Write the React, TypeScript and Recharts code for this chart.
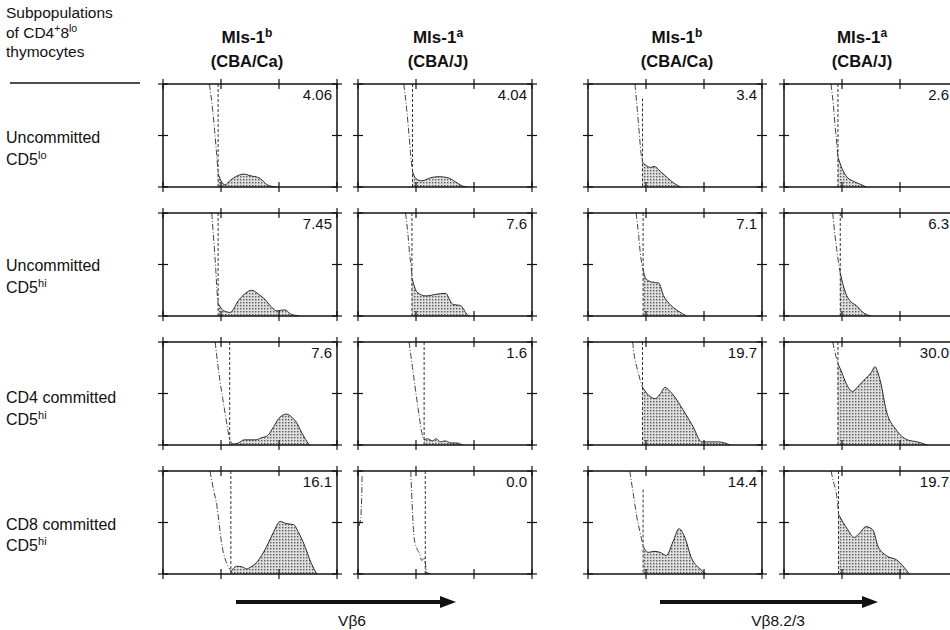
import React from 'react';
import { ComposedChart, Line, Area, XAxis, YAxis, ReferenceLine } from 'recharts';

type P = { x: number; y: number };

// ---------- text data ----------
const headerLines = ['Subpopulations', 'of CD4', 'thymocytes'];
const rowLabels = [
  { line1: 'Uncommitted', base: 'CD5', sup: 'lo' },
  { line1: 'Uncommitted', base: 'CD5', sup: 'hi' },
  { line1: 'CD4 committed', base: 'CD5', sup: 'hi' },
  { line1: 'CD8 committed', base: 'CD5', sup: 'hi' },
];
const colHeaders = [
  { name: 'Mls-1', sup: 'b', strain: '(CBA/Ca)' },
  { name: 'Mls-1', sup: 'a', strain: '(CBA/J)' },
  { name: 'Mls-1', sup: 'b', strain: '(CBA/Ca)' },
  { name: 'Mls-1', sup: 'a', strain: '(CBA/J)' },
];
const axisTitles = ['V\u03b26', 'V\u03b28.2/3'];
const pctLabels = [
  ['4.06', '4.04', '3.4', '2.6'],
  ['7.45', '7.6', '7.1', '6.3'],
  ['7.6', '1.6', '19.7', '30.0'],
  ['16.1', '0.0', '14.4', '19.7'],
];
const xTicks = [0, 1, 2, 3];
const yTicks = [0, 0.5, 1];

// gate position [x, top of gate line]
const gates = [
  [[0.95, 1], [0.94, 1], [0.94, 0.86], [0.93, 1]],
  [[0.95, 1], [0.93, 1], [0.95, 1], [0.97, 1]],
  [[1.15, 1], [1.14, 1], [0.94, 1], [0.93, 1]],
  [[1.17, 1], [1.16, 1], [0.95, 0.82], [0.94, 1]],
];

// ---------- histogram data (x: 0..3 log decades, y: fraction of panel height) ----------
const curveR1C1: P[] = [{ x: 0.8, y: 1 }, { x: 0.85, y: 0.78 }, { x: 0.89, y: 0.55 }, { x: 0.92, y: 0.35 }, { x: 0.95, y: 0.14 }];
const shadeR1C1: P[] = [{ x: 0.95, y: 0.13 }, { x: 1.0, y: 0.06 }, { x: 1.07, y: 0.02 }, { x: 1.15, y: 0.06 }, { x: 1.25, y: 0.1 }, { x: 1.4, y: 0.125 }, { x: 1.5, y: 0.11 }, { x: 1.67, y: 0.085 }, { x: 1.8, y: 0.02 }, { x: 1.95, y: 0 }];
const curveR1C2: P[] = [{ x: 0.79, y: 1 }, { x: 0.84, y: 0.75 }, { x: 0.88, y: 0.5 }, { x: 0.91, y: 0.3 }, { x: 0.94, y: 0.15 }];
const shadeR1C2: P[] = [{ x: 0.94, y: 0.15 }, { x: 1.0, y: 0.08 }, { x: 1.1, y: 0.06 }, { x: 1.25, y: 0.09 }, { x: 1.4, y: 0.1 }, { x: 1.55, y: 0.09 }, { x: 1.68, y: 0.05 }, { x: 1.8, y: 0.01 }, { x: 1.88, y: 0 }];
const curveR1C3: P[] = [{ x: 0.81, y: 1 }, { x: 0.85, y: 0.75 }, { x: 0.88, y: 0.55 }, { x: 0.91, y: 0.35 }, { x: 0.94, y: 0.24 }];
const shadeR1C3: P[] = [{ x: 0.94, y: 0.24 }, { x: 1.0, y: 0.21 }, { x: 1.08, y: 0.19 }, { x: 1.14, y: 0.2 }, { x: 1.25, y: 0.15 }, { x: 1.35, y: 0.1 }, { x: 1.5, y: 0.03 }, { x: 1.6, y: 0 }];
const curveR1C4: P[] = [{ x: 0.81, y: 1 }, { x: 0.85, y: 0.8 }, { x: 0.88, y: 0.6 }, { x: 0.91, y: 0.42 }, { x: 0.93, y: 0.29 }];
const shadeR1C4: P[] = [{ x: 0.93, y: 0.29 }, { x: 1.0, y: 0.18 }, { x: 1.08, y: 0.1 }, { x: 1.18, y: 0.06 }, { x: 1.3, y: 0.03 }, { x: 1.42, y: 0 }];

const curveR2C1: P[] = [{ x: 0.84, y: 1 }, { x: 0.88, y: 0.7 }, { x: 0.91, y: 0.45 }, { x: 0.93, y: 0.25 }, { x: 0.95, y: 0.12 }];
const shadeR2C1: P[] = [{ x: 0.95, y: 0.12 }, { x: 1.05, y: 0.05 }, { x: 1.16, y: 0.035 }, { x: 1.3, y: 0.15 }, { x: 1.42, y: 0.22 }, { x: 1.53, y: 0.25 }, { x: 1.65, y: 0.21 }, { x: 1.76, y: 0.16 }, { x: 1.88, y: 0.08 }, { x: 1.96, y: 0.05 }, { x: 2.1, y: 0.06 }, { x: 2.2, y: 0.02 }, { x: 2.35, y: 0 }];
const curveR2C2: P[] = [{ x: 0.82, y: 1 }, { x: 0.86, y: 0.8 }, { x: 0.89, y: 0.6 }, { x: 0.92, y: 0.45 }, { x: 0.93, y: 0.37 }];
const shadeR2C2: P[] = [{ x: 0.93, y: 0.37 }, { x: 1.02, y: 0.23 }, { x: 1.17, y: 0.195 }, { x: 1.34, y: 0.21 }, { x: 1.51, y: 0.22 }, { x: 1.63, y: 0.115 }, { x: 1.77, y: 0.1 }, { x: 1.89, y: 0.01 }, { x: 1.93, y: 0 }];
const curveR2C3: P[] = [{ x: 0.83, y: 1 }, { x: 0.87, y: 0.8 }, { x: 0.9, y: 0.62 }, { x: 0.93, y: 0.5 }, { x: 0.95, y: 0.45 }];
const shadeR2C3: P[] = [{ x: 0.95, y: 0.45 }, { x: 1.0, y: 0.36 }, { x: 1.1, y: 0.33 }, { x: 1.22, y: 0.32 }, { x: 1.3, y: 0.2 }, { x: 1.4, y: 0.12 }, { x: 1.55, y: 0.05 }, { x: 1.7, y: 0 }];
const curveR2C4: P[] = [{ x: 0.84, y: 1 }, { x: 0.88, y: 0.78 }, { x: 0.92, y: 0.6 }, { x: 0.95, y: 0.48 }, { x: 0.97, y: 0.42 }];
const shadeR2C4: P[] = [{ x: 0.97, y: 0.42 }, { x: 1.02, y: 0.3 }, { x: 1.08, y: 0.2 }, { x: 1.15, y: 0.14 }, { x: 1.25, y: 0.1 }, { x: 1.35, y: 0.04 }, { x: 1.5, y: 0 }];

const curveR3C1: P[] = [{ x: 0.9, y: 1 }, { x: 0.94, y: 0.8 }, { x: 0.98, y: 0.63 }, { x: 1.03, y: 0.45 }, { x: 1.07, y: 0.31 }, { x: 1.12, y: 0.14 }, { x: 1.15, y: 0.05 }];
const shadeR3C1: P[] = [{ x: 1.15, y: 0.04 }, { x: 1.22, y: 0.01 }, { x: 1.3, y: 0.02 }, { x: 1.4, y: 0.05 }, { x: 1.5, y: 0.05 }, { x: 1.6, y: 0.05 }, { x: 1.7, y: 0.07 }, { x: 1.8, y: 0.09 }, { x: 1.9, y: 0.17 }, { x: 2.0, y: 0.26 }, { x: 2.13, y: 0.3 }, { x: 2.22, y: 0.27 }, { x: 2.3, y: 0.22 }, { x: 2.4, y: 0.11 }, { x: 2.52, y: 0 }];
const curveR3C2: P[] = [{ x: 0.88, y: 1 }, { x: 0.94, y: 0.75 }, { x: 1.0, y: 0.5 }, { x: 1.05, y: 0.3 }, { x: 1.1, y: 0.12 }, { x: 1.14, y: 0.05 }];
const shadeR3C2: P[] = [{ x: 1.14, y: 0.05 }, { x: 1.2, y: 0.06 }, { x: 1.28, y: 0.04 }, { x: 1.35, y: 0.06 }, { x: 1.42, y: 0.03 }, { x: 1.5, y: 0.04 }, { x: 1.6, y: 0.02 }, { x: 1.7, y: 0.02 }, { x: 1.8, y: 0 }];
const curveR3C3: P[] = [{ x: 0.77, y: 1 }, { x: 0.8, y: 0.86 }, { x: 0.84, y: 0.76 }, { x: 0.9, y: 0.63 }, { x: 0.94, y: 0.56 }];
const shadeR3C3: P[] = [{ x: 0.94, y: 0.56 }, { x: 1.05, y: 0.48 }, { x: 1.16, y: 0.45 }, { x: 1.25, y: 0.5 }, { x: 1.33, y: 0.56 }, { x: 1.4, y: 0.53 }, { x: 1.47, y: 0.485 }, { x: 1.64, y: 0.34 }, { x: 1.81, y: 0.18 }, { x: 1.96, y: 0.03 }, { x: 2.1, y: 0.03 }, { x: 2.25, y: 0.03 }, { x: 2.45, y: 0 }];
const curveR3C4: P[] = [{ x: 0.84, y: 1 }, { x: 0.87, y: 0.92 }, { x: 0.9, y: 0.85 }, { x: 0.93, y: 0.79 }];
const shadeR3C4: P[] = [{ x: 0.93, y: 0.79 }, { x: 1.0, y: 0.7 }, { x: 1.07, y: 0.6 }, { x: 1.18, y: 0.52 }, { x: 1.28, y: 0.57 }, { x: 1.38, y: 0.63 }, { x: 1.5, y: 0.7 }, { x: 1.57, y: 0.76 }, { x: 1.62, y: 0.7 }, { x: 1.67, y: 0.6 }, { x: 1.76, y: 0.34 }, { x: 1.93, y: 0.15 }, { x: 2.13, y: 0.05 }, { x: 2.3, y: 0.03 }, { x: 2.47, y: 0 }];

const curveR4C1: P[] = [{ x: 0.81, y: 1 }, { x: 0.87, y: 0.82 }, { x: 0.93, y: 0.66 }, { x: 0.97, y: 0.48 }, { x: 1.01, y: 0.3 }, { x: 1.07, y: 0.15 }, { x: 1.13, y: 0.065 }, { x: 1.17, y: 0.03 }];
const shadeR4C1: P[] = [{ x: 1.17, y: 0.02 }, { x: 1.27, y: 0.075 }, { x: 1.36, y: 0.07 }, { x: 1.44, y: 0.05 }, { x: 1.52, y: 0.07 }, { x: 1.61, y: 0.11 }, { x: 1.7, y: 0.18 }, { x: 1.79, y: 0.27 }, { x: 1.9, y: 0.4 }, { x: 2.02, y: 0.51 }, { x: 2.12, y: 0.49 }, { x: 2.25, y: 0.48 }, { x: 2.34, y: 0.4 }, { x: 2.42, y: 0.305 }, { x: 2.56, y: 0.1 }, { x: 2.65, y: 0 }];
const curveR4C2: P[] = [{ x: 0.91, y: 1 }, { x: 0.94, y: 0.6 }, { x: 0.97, y: 0.34 }, { x: 1.02, y: 0.24 }, { x: 1.06, y: 0.2 }, { x: 1.1, y: 0.13 }, { x: 1.14, y: 0.16 }, { x: 1.18, y: 0.02 }];
const shadeR4C2: P[] = [{ x: 1.16, y: 0.02 }, { x: 1.2, y: 0.01 }, { x: 1.25, y: 0 }];
const edgeR4C2: P[] = [{ x: 0.07, y: 0.95 }, { x: 0.065, y: 0.75 }, { x: 0.05, y: 0.55 }, { x: 0.02, y: 0.46 }];
const curveR4C3: P[] = [{ x: 0.72, y: 1 }, { x: 0.78, y: 0.78 }, { x: 0.84, y: 0.56 }, { x: 0.9, y: 0.4 }, { x: 0.95, y: 0.27 }];
const shadeR4C3: P[] = [{ x: 0.95, y: 0.27 }, { x: 1.04, y: 0.21 }, { x: 1.14, y: 0.22 }, { x: 1.24, y: 0.21 }, { x: 1.35, y: 0.18 }, { x: 1.47, y: 0.32 }, { x: 1.57, y: 0.44 }, { x: 1.67, y: 0.355 }, { x: 1.78, y: 0.16 }, { x: 1.93, y: 0.05 }, { x: 2.04, y: 0 }];
const curveR4C4: P[] = [{ x: 0.81, y: 1 }, { x: 0.86, y: 0.88 }, { x: 0.9, y: 0.79 }, { x: 0.94, y: 0.6 }];
const shadeR4C4: P[] = [{ x: 0.94, y: 0.58 }, { x: 1.02, y: 0.5 }, { x: 1.1, y: 0.43 }, { x: 1.21, y: 0.355 }, { x: 1.33, y: 0.415 }, { x: 1.41, y: 0.46 }, { x: 1.53, y: 0.43 }, { x: 1.62, y: 0.27 }, { x: 1.76, y: 0.18 }, { x: 1.96, y: 0.13 }, { x: 2.07, y: 0.065 }, { x: 2.16, y: 0 }];

const curves = [
  [curveR1C1, curveR1C2, curveR1C3, curveR1C4],
  [curveR2C1, curveR2C2, curveR2C3, curveR2C4],
  [curveR3C1, curveR3C2, curveR3C3, curveR3C4],
  [curveR4C1, curveR4C2, curveR4C3, curveR4C4],
];
const shades = [
  [shadeR1C1, shadeR1C2, shadeR1C3, shadeR1C4],
  [shadeR2C1, shadeR2C2, shadeR2C3, shadeR2C4],
  [shadeR3C1, shadeR3C2, shadeR3C3, shadeR3C4],
  [shadeR4C1, shadeR4C2, shadeR4C3, shadeR4C4],
];

// ---------- layout ----------
const PANEL_LEFTS = [163, 358, 588, 784];
const PANEL_TOPS = [84, 213, 342, 471];
const PW = 174;
const PH = 103;
const M = 7; // total space outside the plot box on each side
const FONT = '"Liberation Sans", Arial, Helvetica, sans-serif';
const INK = '#111';

const TickX = (props: any) => {
  const { x, y } = props;
  return <line x1={x} x2={x} y1={y - 5} y2={y + 5} stroke={INK} strokeWidth={1.2} />;
};
const TickY = (props: any) => {
  const { x, y } = props;
  return <line x1={x - 5} x2={x + 5} y1={y} y2={y} stroke={INK} strokeWidth={1.2} />;
};

const axisLine = { stroke: INK, strokeWidth: 1.5 };

function Panel({ r, c }: { r: number; c: number }) {
  const id = `dots-${r}-${c}`;
  const [gx, gTop] = gates[r][c];
  const common = {
    type: 'number' as const,
    tickSize: 0,
    tickMargin: 0,
    tickLine: false,
    axisLine,
    allowDataOverflow: true,
    interval: 0 as const,
  };
  return (
    <div style={{ position: 'absolute', left: PANEL_LEFTS[c] - M, top: PANEL_TOPS[r] - M }}>
      <ComposedChart
        width={PW + 2 * M}
        height={PH + 2 * M}
        margin={{ top: M - 1, right: M - 1, bottom: M - 1, left: M - 1 }}
      >
        <defs>
          <pattern id={id} width="3" height="3" patternUnits="userSpaceOnUse">
            <rect width="3" height="3" fill="#dedede" />
            <rect width="1.4" height="1.4" fill="#5a5a5a" />
          </pattern>
        </defs>
        <XAxis xAxisId="b" dataKey="x" domain={[0, 3]} ticks={xTicks} height={1} tick={<TickX />} {...common} />
        <XAxis xAxisId="t" dataKey="x" orientation="top" domain={[0, 3]} ticks={xTicks} height={1} tick={<TickX />} {...common} />
        <YAxis yAxisId="l" dataKey="y" domain={[0, 1]} ticks={yTicks} width={1} tick={<TickY />} {...common} />
        <YAxis yAxisId="r" dataKey="y" orientation="right" domain={[0, 1]} ticks={yTicks} width={1} tick={<TickY />} {...common} />
        <Area
          xAxisId="b"
          yAxisId="l"
          data={shades[r][c]}
          dataKey="y"
          type="monotone"
          fill={`url(#${id})`}
          fillOpacity={1}
          stroke="#2a2a2a"
          strokeWidth={1}
          dot={false}
          activeDot={false}
          isAnimationActive={false}
        />
        <Line
          xAxisId="b"
          yAxisId="l"
          data={curves[r][c]}
          dataKey="y"
          type="monotone"
          stroke="#444"
          strokeWidth={1}
          strokeDasharray="6 2 1 2"
          dot={false}
          activeDot={false}
          isAnimationActive={false}
        />
        {r === 3 && c === 1 ? (
          <Line
            xAxisId="b"
            yAxisId="l"
            data={edgeR4C2}
            dataKey="y"
            type="linear"
            stroke="#444"
            strokeWidth={1}
            strokeDasharray="6 2 1 2"
            dot={false}
            activeDot={false}
            isAnimationActive={false}
          />
        ) : null}
        <ReferenceLine
          xAxisId="b"
          yAxisId="l"
          segment={[{ x: gx, y: gTop }, { x: gx, y: 0 }]}
          stroke="#333"
          strokeWidth={1}
          strokeDasharray="3 2"
          ifOverflow="visible"
        />
      </ComposedChart>
    </div>
  );
}

const headerCenters = [247, 438, 677, 862];
const rowBaselines = [[143, 165], [271, 293], [403, 425], [530, 551]];

export default function App() {
  return (
    <div
      style={{
        position: 'absolute',
        left: 0,
        top: 0,
        width: 950,
        height: 630,
        overflow: 'hidden',
        background: '#fff',
        fontFamily: FONT,
      }}
    >
      {PANEL_TOPS.map((_, r) => PANEL_LEFTS.map((__, c) => <Panel key={`${r}-${c}`} r={r} c={c} />))}
      <svg width={950} height={630} style={{ position: 'absolute', left: 0, top: 0, pointerEvents: 'none' }}>
        <g fontFamily={FONT} fill={INK}>
          <text x={6} y={18} fontSize={15.5}>{headerLines[0]}</text>
          <text x={6} y={38} fontSize={15.5}>
            {headerLines[1]}
            <tspan fontSize={10.5} dy={-6}>+</tspan>
            <tspan dy={6}>8</tspan>
            <tspan fontSize={10.5} dy={-6}>lo</tspan>
          </text>
          <text x={6} y={57} fontSize={15.5}>{headerLines[2]}</text>
          <line x1={10} x2={140} y1={83} y2={83} stroke={INK} strokeWidth={1.5} />

          {rowLabels.map((rl, i) => (
            <g key={i}>
              <text x={6} y={rowBaselines[i][0]} fontSize={16}>{rl.line1}</text>
              <text x={6} y={rowBaselines[i][1]} fontSize={16}>
                {rl.base}
                <tspan fontSize={11} dy={-6}>{rl.sup}</tspan>
              </text>
            </g>
          ))}

          {colHeaders.map((h, i) => (
            <g key={i}>
              <text x={headerCenters[i]} y={43} fontSize={17} fontWeight="bold" textAnchor="middle">
                {h.name}
                <tspan fontSize={12} dy={-6}>{h.sup}</tspan>
              </text>
              <text x={headerCenters[i]} y={67} fontSize={16.5} fontWeight="bold" textAnchor="middle">
                {h.strain}
              </text>
            </g>
          ))}

          {pctLabels.map((row, r) =>
            row.map((lab, c) => (
              <text
                key={`${r}-${c}`}
                x={Math.min(PANEL_LEFTS[c] + PW - 5, 949)}
                y={PANEL_TOPS[r] + 16}
                fontSize={15}
                textAnchor="end"
              >
                {lab}
              </text>
            ))
          )}

          <line x1={236} x2={444} y1={602} y2={602} stroke={INK} strokeWidth={4} />
          <polygon points="440,596 456,602 440,608" fill={INK} />
          <text x={352} y={626} fontSize={15.5} textAnchor="middle">{axisTitles[0]}</text>

          <line x1={660} x2={866} y1={602} y2={602} stroke={INK} strokeWidth={4} />
          <polygon points="862,596 878,602 862,608" fill={INK} />
          <text x={778} y={626} fontSize={15.5} textAnchor="middle">{axisTitles[1]}</text>
        </g>
      </svg>
    </div>
  );
}
